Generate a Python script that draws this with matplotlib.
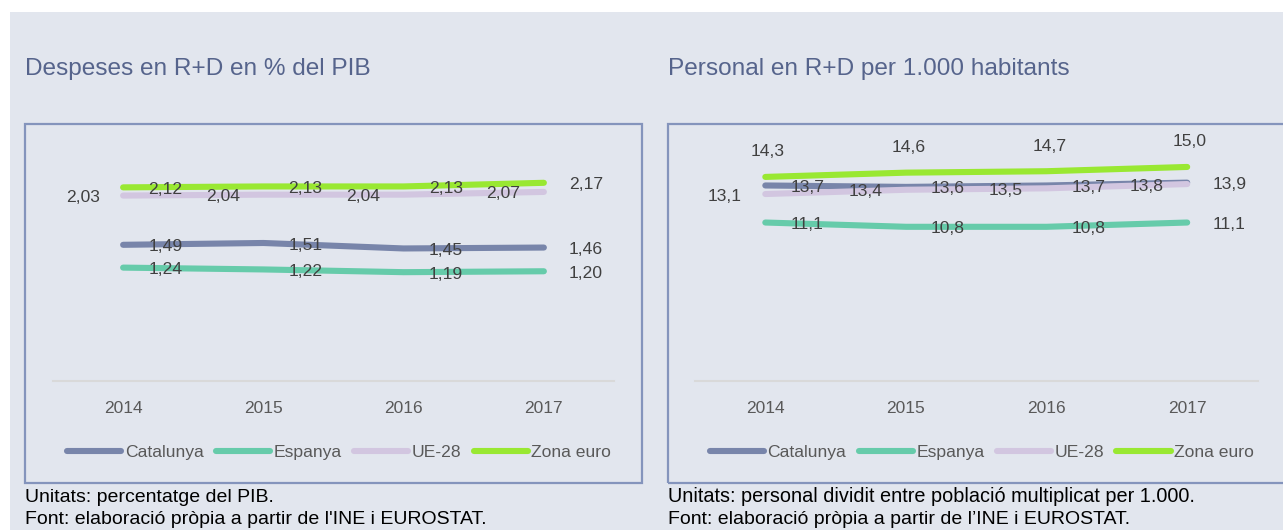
import matplotlib
matplotlib.use('Agg')
import matplotlib.pyplot as plt
from matplotlib.patches import Rectangle

plt.rcParams['font.family'] = ['Liberation Sans', 'DejaVu Sans']

# -----------------------------------------------------------------
# Data
years = ['2014', '2015', '2016', '2017']
series = ['Catalunya', 'Espanya', 'UE-28', 'Zona euro']

# Despeses en R+D en % del PIB
desp_cat = [1.49, 1.51, 1.45, 1.46]
desp_esp = [1.24, 1.22, 1.19, 1.20]
desp_ue = [2.03, 2.04, 2.04, 2.07]
desp_ze = [2.12, 2.13, 2.13, 2.17]

# Personal en R+D per 1.000 habitants
pers_cat = [13.7, 13.6, 13.7, 13.9]
pers_esp = [11.1, 10.8, 10.8, 11.1]
pers_ue = [13.1, 13.4, 13.5, 13.8]
pers_ze = [14.3, 14.6, 14.7, 15.0]

# -----------------------------------------------------------------
# Styles
COLORS = ['#7885aa', '#66cbaa', '#d2c6e0', '#99e832']
BG = '#e2e6ee'
BORDER = '#8494bc'
TITLE_C = '#56648c'
LABEL_C = '#404040'
TICK_C = '#595959'

W, H = 1283, 530


def fx(px):
    return px / W


def fy(py):
    return 1 - py / H


def draw_chart(fig, x0, x1, ymax, data, fmt, positions):
    base = 380.7
    top = 140.0
    ax = fig.add_axes([fx(x0), fy(base), fx(x1 - x0), (base - top) / H])
    ax.set_zorder(2)
    ax.set_facecolor('none')
    xs = list(range(len(years)))
    for vals, name, col in zip(data, series, COLORS):
        ax.plot(xs, vals, color=col, lw=4.4, solid_capstyle='round', label=name)
    ax.set_xlim(-0.5, len(years) - 0.5)
    ax.set_ylim(0, ymax)
    ax.set_xticks(xs)
    ax.set_xticklabels(years, color=TICK_C, fontsize=12.5)
    ax.tick_params(axis='x', length=0, pad=14.5)
    ax.set_yticks([])
    for s in ['left', 'right', 'top']:
        ax.spines[s].set_visible(False)
    ax.spines['bottom'].set_color('#d9d9d9')
    ax.spines['bottom'].set_linewidth(1.5)

    # Data labels
    for vals, pos in zip(data, positions):
        for x, v in zip(xs, vals):
            txt = fmt.format(v).replace('.', ',')
            if pos == 'right':
                off, ha = (18, -1.5), 'left'
            elif pos == 'left':
                off, ha = (-17, -1.5), 'right'
            else:
                off, ha = (2, 18), 'center'
            ax.annotate(txt, (x, v), xytext=off, textcoords='offset points',
                        ha=ha, va='center', fontsize=12.6, color=LABEL_C,
                        zorder=5)

    leg = ax.legend(loc='center', bbox_to_anchor=(0.51, (base - 452) / (base - top)),
                    ncol=4, frameon=False, fontsize=12.6, handlelength=3.1,
                    handletextpad=0.2, columnspacing=0.7, borderaxespad=0)
    for t in leg.get_texts():
        t.set_color(TICK_C)
    return ax


fig = plt.figure(figsize=(W / 100, H / 100), dpi=100)
fig.patch.set_facecolor('white')

# Background panel
fig.patches.append(Rectangle((fx(10), 0), fx(W - 10), fy(12), transform=fig.transFigure,
                             facecolor=BG, edgecolor='none', zorder=-2))
# Chart boxes
for bx in [25, 668]:
    fig.patches.append(Rectangle((fx(bx), fy(483)), fx(617), (483 - 124) / H,
                                 transform=fig.transFigure, facecolor='none',
                                 edgecolor=BORDER, lw=1.6, zorder=-1))

# Titles
fig.text(fx(25), fy(69), 'Despeses en R+D en % del PIB', fontsize=17.6,
         color=TITLE_C, va='center', ha='left')
fig.text(fx(668), fy(69), 'Personal en R+D per 1.000 habitants', fontsize=17.6,
         color=TITLE_C, va='center', ha='left')

# Charts
draw_chart(fig, 53, 614, (380.7 - 140) / 91.2,
           [desp_cat, desp_esp, desp_ue, desp_ze], '{:.2f}',
           ['right', 'right', 'left', 'right'])
draw_chart(fig, 695, 1257.5, (380.7 - 140) / 14.25,
           [pers_cat, pers_esp, pers_ue, pers_ze], '{:.1f}',
           ['right', 'right', 'left', 'above'])

# Footnotes
fig.text(fx(25), fy(497), 'Unitats: percentatge del PIB.', fontsize=14,
         color='black', va='center', ha='left')
fig.text(fx(25), fy(520), "Font: elaboració pròpia a partir de l'INE i EUROSTAT.",
         fontsize=14, color='black', va='center', ha='left')
fig.text(fx(668), fy(497), 'Unitats: personal dividit entre població multiplicat per 1.000.',
         fontsize=14.3, color='black', va='center', ha='left')
fig.text(fx(668), fy(520), 'Font: elaboració pròpia a partir de l\u2019INE i EUROSTAT.',
         fontsize=14, color='black', va='center', ha='left')

fig.savefig('out.png', dpi=100, facecolor=fig.get_facecolor())
